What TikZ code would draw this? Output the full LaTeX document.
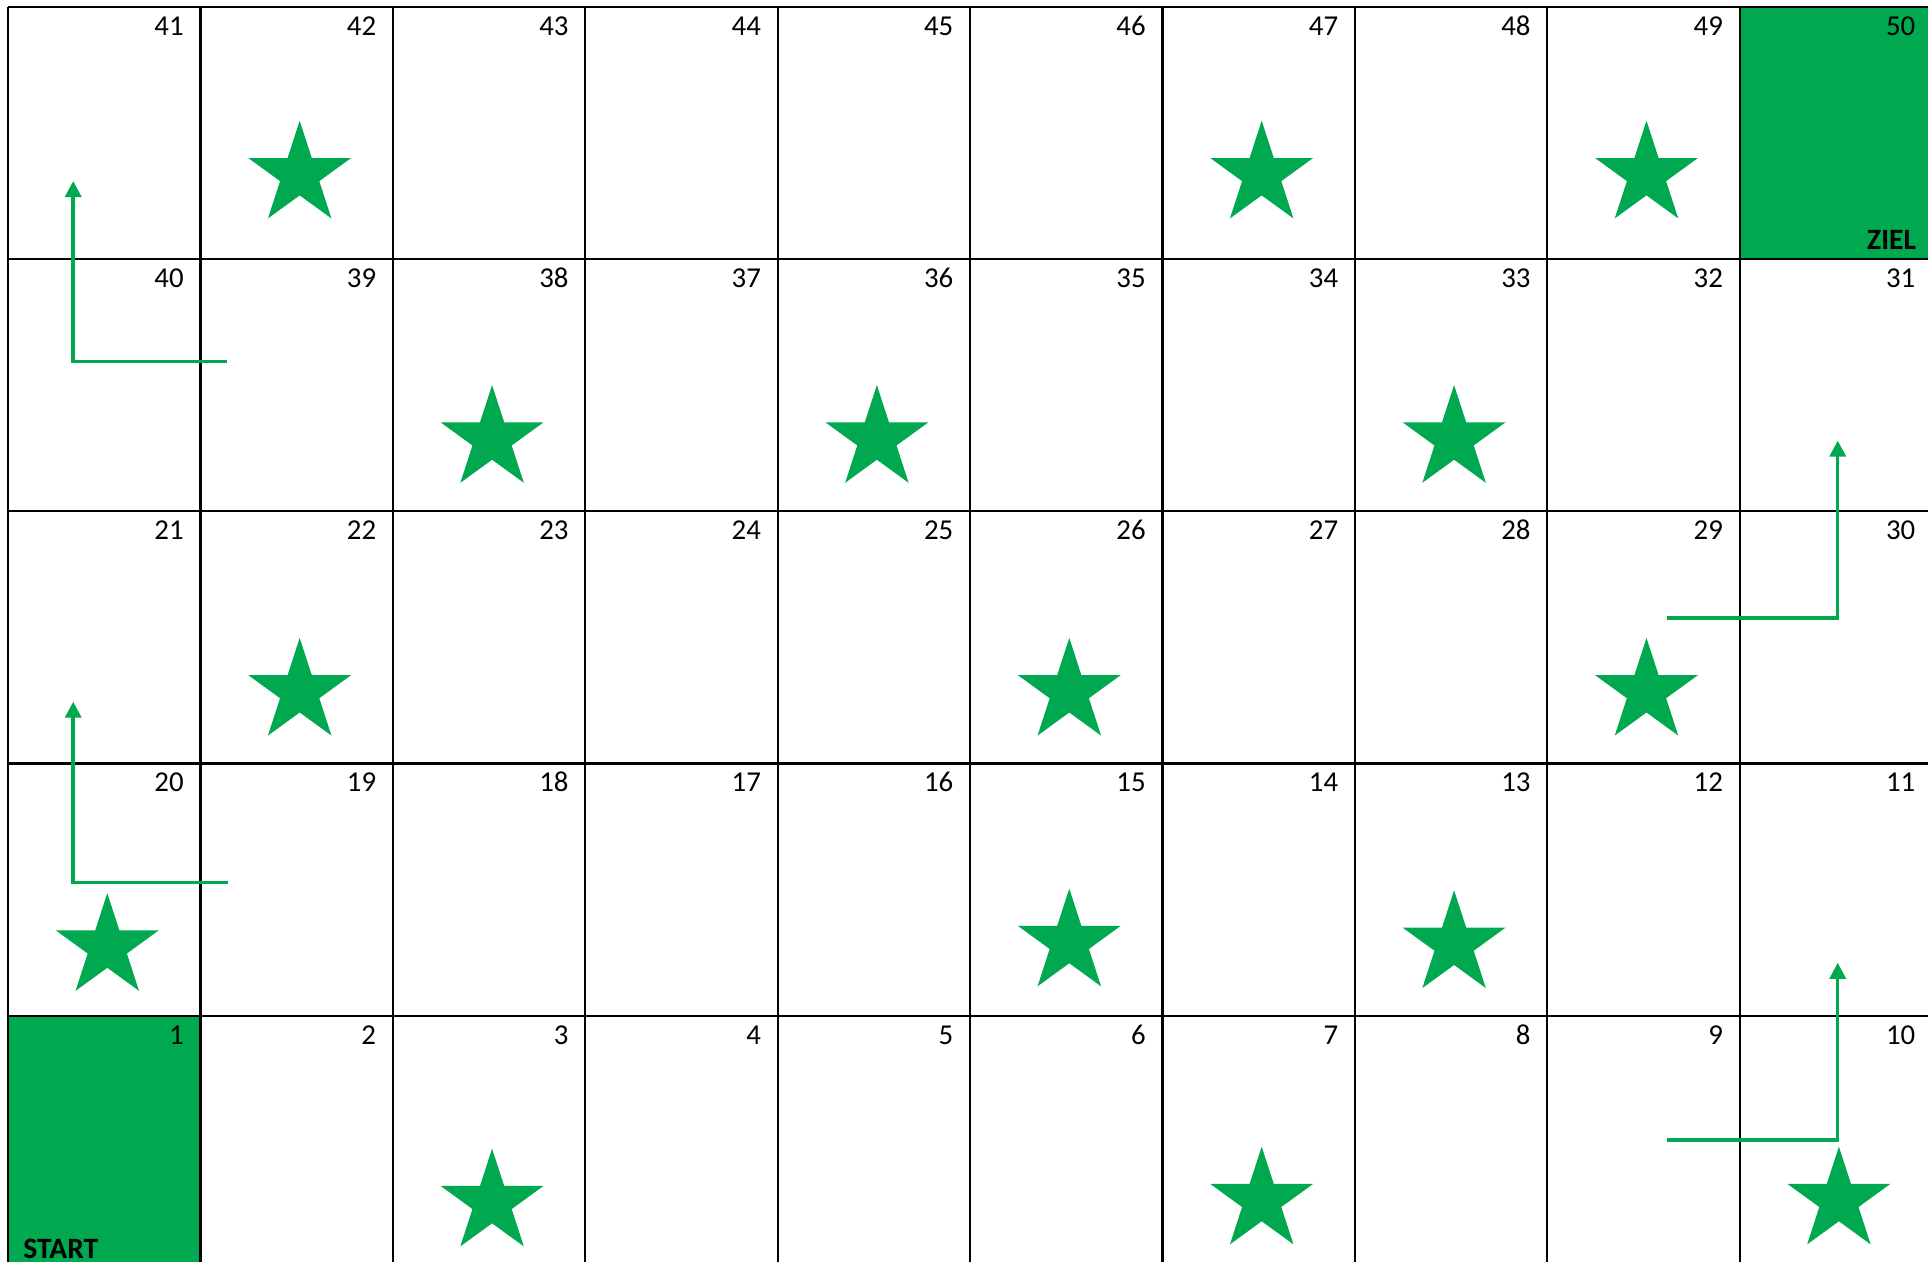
\documentclass[tikz,border=0pt]{standalone}
\usepackage{fontspec}
\setmainfont{Carlito}
\usetikzlibrary{arrows.meta,shapes.geometric}
\definecolor{boardgreen}{HTML}{00A84F}

\begin{document}
\begin{tikzpicture}[x=1.924cm, y=2.5225cm, line join=miter,
    gridline/.style={line width=0.022cm},
    cellnum/.style={anchor=base east, inner sep=0pt, font=\fontsize{8.2}{9}\selectfont},
    fieldtag/.style={inner sep=0pt, font=\fontsize{8.4}{9}\selectfont\bfseries},
    boardstar/.style={star, star points=5, star point ratio=2.618, minimum size=1.08cm, inner sep=0pt, fill=boardgreen},
    hint/.style={boardgreen, line width=0.035cm, -{Triangle[width=0.16cm, length=0.16cm]}}]
    \useasboundingbox (-0.0416,0.0278) rectangle (9.9792,5.0268);

    % --- 1. Start and goal fields ---
    \fill[boardgreen] (0,0) rectangle (1,1);
    \fill[boardgreen] (9,4) rectangle (10,5);

    % --- 2. Board grid ---
    \foreach \i in {0,...,10} \draw[gridline] (\i,0) -- (\i,5);
    \foreach \j in {0,...,5} \draw[gridline] (0,\j) -- (10,\j);

    % --- 3. Field numbers, snake order ---
    \foreach \j in {0,...,4} {
        \foreach \i in {0,...,9} {
            \pgfmathtruncatemacro{\n}{mod(\j,2)==1 ? 10*\j+10-\i : 10*\j+\i+1}
            \node[cellnum, xshift=-0.16cm, yshift=-0.283cm] (n\n) at (\i+1,\j+1) {\n};
        }
    }
    \node[fieldtag, anchor=base east, xshift=-0.153cm, yshift=0.097cm] (ziel) at (10,4) {ZIEL};
    \node[fieldtag, anchor=base west, xshift=0.147cm, yshift=0.10cm] (start) at (0,0) {START};

    % --- 4. Stars (column/row/height in row) ---
    \foreach \c/\r/\dy in {1/4/0.334, 6/4/0.334, 8/4/0.334,
                           2/3/0.286, 4/3/0.286, 7/3/0.286,
                           1/2/0.284, 5/2/0.284, 8/2/0.284,
                           0/1/0.272, 5/1/0.290, 7/1/0.283,
                           2/0/0.259, 6/0/0.267, 9/0/0.267}
        \node[boardstar] (s\c\r) at (\c+0.516,\r+\dy) {};

    % --- 5. Turn arrows at the row ends ---
    \coordinate (a40) at (1.138,3.593);  \coordinate (b40) at (0.339,3.593);  \coordinate (t41) at (0.339,4.309);
    \coordinate (a20) at (1.142,1.529);  \coordinate (b20) at (0.339,1.529);  \coordinate (t21) at (0.339,2.245);
    \coordinate (a29) at (8.621,2.576);  \coordinate (b30) at (9.510,2.576);  \coordinate (t31) at (9.510,3.280);
    \coordinate (a9)  at (8.621,0.507);  \coordinate (b10) at (9.510,0.507);  \coordinate (t11) at (9.510,1.210);
    \draw[hint] (a40) -- (b40) -- (t41);
    \draw[hint] (a20) -- (b20) -- (t21);
    \draw[hint] (a29) -- (b30) -- (t31);
    \draw[hint] (a9) -- (b10) -- (t11);
\end{tikzpicture}
\end{document}
